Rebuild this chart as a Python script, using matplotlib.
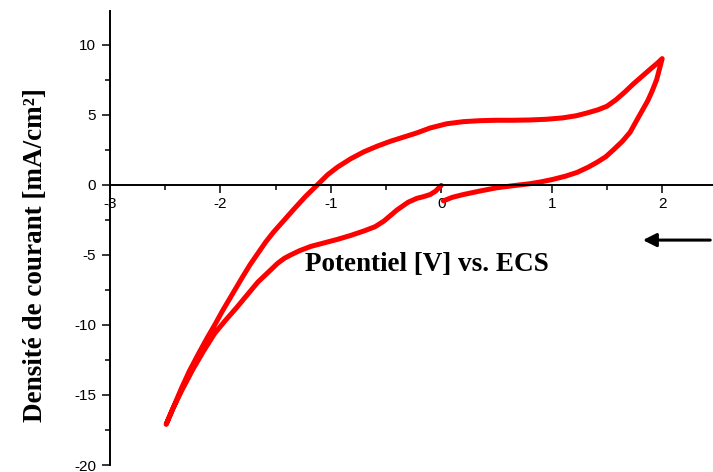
import numpy as np
import matplotlib.pyplot as plt
from matplotlib.ticker import MultipleLocator

plt.rcParams['axes.unicode_minus'] = False

# cyclic voltammogram, one continuous sweep:
# 0 V -> -2.5 V (cathodic), -2.5 V -> +2 V (anodic), +2 V -> 0 V
potential = [
    # cathodic
    0.00, -0.05, -0.10, -0.16, -0.22, -0.30, -0.40, -0.46, -0.52, -0.60,
    -0.70, -0.82, -0.94, -1.06, -1.18, -1.28, -1.36, -1.42, -1.48, -1.54,
    -1.60, -1.66, -1.75, -1.85, -1.95, -2.05, -2.15, -2.25, -2.35, -2.43,
    -2.49,
    # anodic
    -2.42, -2.35, -2.28, -2.20, -2.12, -2.05, -1.98, -1.92, -1.86, -1.80,
    -1.73, -1.66, -1.59, -1.52, -1.43, -1.34, -1.23, -1.12, -1.03, -0.94,
    -0.82, -0.70, -0.58, -0.46, -0.34, -0.22, -0.10, 0.05, 0.20, 0.35,
    0.50, 0.65, 0.80, 0.95, 1.10, 1.22, 1.32, 1.42, 1.50, 1.58,
    1.66, 1.74, 1.82, 1.90, 1.96, 2.00,
    # back to 0 V
    1.98, 1.95, 1.91, 1.87, 1.82, 1.77, 1.71, 1.64, 1.56, 1.49,
    1.41, 1.33, 1.23, 1.12, 1.01, 0.90, 0.80, 0.65, 0.50, 0.35,
    0.20, 0.10, 0.02,
]
current = [
    # cathodic
    -0.05, -0.45, -0.70, -0.85, -0.97, -1.25, -1.80, -2.20, -2.60, -3.00,
    -3.30, -3.62, -3.90, -4.15, -4.40, -4.70, -5.00, -5.25, -5.60, -6.05,
    -6.50, -6.95, -7.80, -8.75, -9.65, -10.60, -11.85, -13.20, -14.70, -16.00,
    -17.10,
    # anodic
    -15.80, -14.50, -13.30, -12.10, -10.95, -10.00, -9.00, -8.20, -7.40, -6.60,
    -5.70, -4.90, -4.10, -3.40, -2.60, -1.80, -0.85, 0.00, 0.70, 1.25,
    1.85, 2.35, 2.75, 3.10, 3.40, 3.70, 4.05, 4.35, 4.50, 4.57,
    4.60, 4.60, 4.62, 4.67, 4.77, 4.92, 5.12, 5.35, 5.60, 6.05,
    6.60, 7.20, 7.75, 8.30, 8.70, 9.00,
    # back to 0 V
    8.40, 7.50, 6.70, 6.00, 5.30, 4.60, 3.75, 3.10, 2.50, 2.00,
    1.60, 1.25, 0.88, 0.60, 0.38, 0.20, 0.07, -0.07, -0.22, -0.45,
    -0.70, -0.90, -1.15,
]

fig = plt.figure(figsize=(7.13, 4.72), dpi=100)
ax = fig.add_axes([0.154, 0.0148, 0.846, 0.962])

ax.plot(potential, current, color='#ff0000', lw=3.6,
        solid_joinstyle='round', solid_capstyle='round')

ax.set_xlim(-3, 2.46)
ax.set_ylim(-20, 12.4)

ax.spines['top'].set_visible(False)
ax.spines['right'].set_visible(False)
ax.spines['bottom'].set_position(('data', 0))
ax.spines['left'].set_position(('data', -3))
for s in ('left', 'bottom'):
    ax.spines[s].set_linewidth(1.4)

ax.xaxis.set_major_locator(MultipleLocator(1))
ax.xaxis.set_minor_locator(MultipleLocator(0.5))
ax.yaxis.set_major_locator(MultipleLocator(5))
ax.yaxis.set_minor_locator(MultipleLocator(2.5))
ax.tick_params(which='major', direction='out', length=6, width=1.1,
               labelsize=11, pad=3)
ax.tick_params(which='minor', direction='out', length=3.5, width=1.1)
ax.tick_params(axis='y', which='major', pad=4)
for lab in ax.get_xticklabels() + ax.get_yticklabels():
    lab.set_fontfamily('Liberation Sans')

ax.set_xlabel('Potentiel [V] vs. ECS', fontfamily='Liberation Serif',
              fontweight='bold', fontsize=19.5)
ax.xaxis.set_label_coords(0.526, 0.47)
ax.set_ylabel('Densité de courant [mA/cm²]', fontfamily='Liberation Serif',
              fontweight='bold', fontsize=19.5)
ax.yaxis.set_label_coords(-0.103, 0.462)

# scan direction
ax.annotate('', xy=(1.80, -3.95), xytext=(2.46, -3.95),
            arrowprops=dict(arrowstyle='-|>', color='black', lw=2.2,
                            mutation_scale=20), annotation_clip=False)

fig.savefig('out.png', dpi=100)
